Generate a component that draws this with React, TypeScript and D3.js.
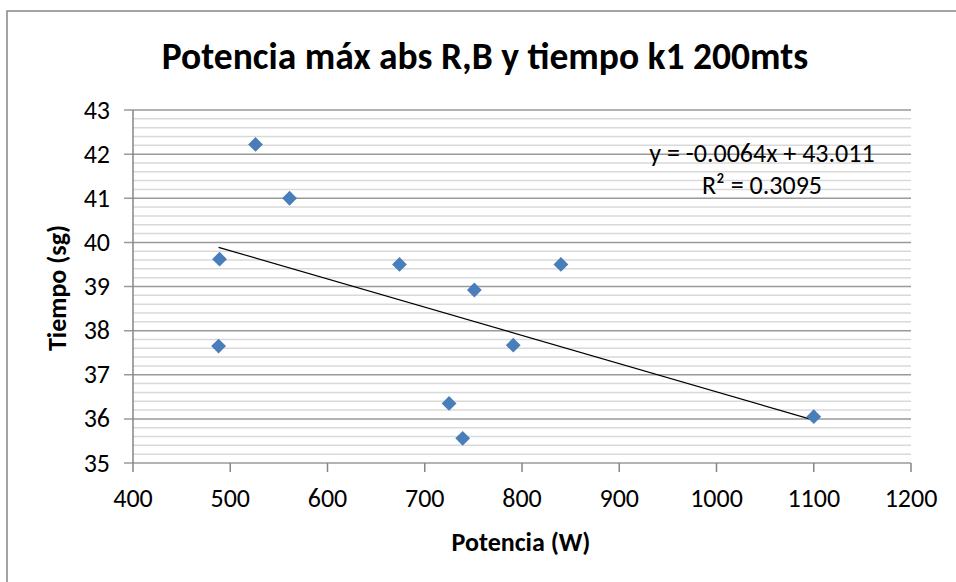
import React from "react";
import * as d3 from "d3";

const potencia = [526, 561, 489, 488, 674, 751, 840, 791, 725, 739, 1100];
const tiempo = [42.22, 41.0, 39.62, 37.65, 39.5, 38.92, 39.5, 37.67, 36.35, 35.56, 36.05];
const xTicks = [400, 500, 600, 700, 800, 900, 1000, 1100, 1200];
const yTicks = [35, 36, 37, 38, 39, 40, 41, 42, 43];
const trendSlope = -0.0064;
const trendIntercept = 43.011;
const equationLines = ["y = -0.0064x + 43.011", "R² = 0.3095"];

const W = 956, H = 582;
const left = 133, right = 911, top = 110, bottom = 463;

export default function App() {
  const x = d3.scaleLinear().domain([400, 1200]).range([left, right]);
  const y = d3.scaleLinear().domain([35, 43]).range([bottom, top]);
  const minor = d3.range(35, 43.001, 0.2).filter((v) => Math.abs(v - Math.round(v)) > 0.01);
  const xMin = d3.min(potencia)!, xMax = d3.max(potencia)!;
  const line = d3.line<number>().x((d) => x(d)).y((d) => y(trendIntercept + trendSlope * d));
  const font = "Calibri, Carlito, 'Open Sans', sans-serif";
  const diamond = d3.symbol().type(d3.symbolDiamond2).size(140)()!;
  return (
    <svg width={W} height={H} style={{ position: "absolute", left: 0, top: 0, background: "#fff" }} fontFamily={font}>
      <rect x={7} y={11} width={960} height={600} fill="#fff" stroke="#868686" strokeWidth={1.5} />
      {minor.map((v, i) => (
        <line key={"m" + i} x1={left} x2={right} y1={y(v)} y2={y(v)} stroke="#d9d9d9" strokeWidth={1.5} />
      ))}
      {yTicks.map((v) => (
        <line key={"g" + v} x1={left - 9} x2={right} y1={y(v)} y2={y(v)} stroke="#9a9a9a" strokeWidth={1.5} />
      ))}
      <line x1={left} x2={left} y1={top} y2={bottom} stroke="#868686" strokeWidth={1.5} />
      {xTicks.map((v) => (
        <line key={"xt" + v} x1={x(v)} x2={x(v)} y1={bottom} y2={bottom + 9} stroke="#868686" strokeWidth={1.5} />
      ))}
      {yTicks.map((v) => (
        <text key={"yl" + v} x={left - 23} y={y(v)} dy="0.33em" textAnchor="end" fontSize={26} fill="#000">{v}</text>
      ))}
      {xTicks.map((v) => (
        <text key={"xl" + v} x={x(v)} y={bottom + 44} textAnchor="middle" fontSize={26} fill="#000">{v}</text>
      ))}
      <path d={line([xMin, xMax])!} stroke="#000" strokeWidth={1.2} fill="none" />
      {potencia.map((p, i) => (
        <path key={"p" + i} d={diamond} transform={`translate(${x(p)},${y(tiempo[i])})`} fill="#4a7ebb" />
      ))}
      <text x={485} y={69} textAnchor="middle" fontSize={37.5} fontWeight="bold" fill="#000">Potencia máx abs R,B y tiempo k1 200mts</text>
      <text transform={`translate(66,288) rotate(-90)`} textAnchor="middle" fontSize={26} fontWeight="bold" fill="#000">Tiempo (sg)</text>
      <text x={521} y={551} textAnchor="middle" fontSize={26} fontWeight="bold" fill="#000">Potencia (W)</text>
      {equationLines.map((t, i) => (
        <text key={"eq" + i} x={762} y={162 + i * 32} textAnchor="middle" fontSize={26} fill="#000">{t}</text>
      ))}
    </svg>
  );
}
